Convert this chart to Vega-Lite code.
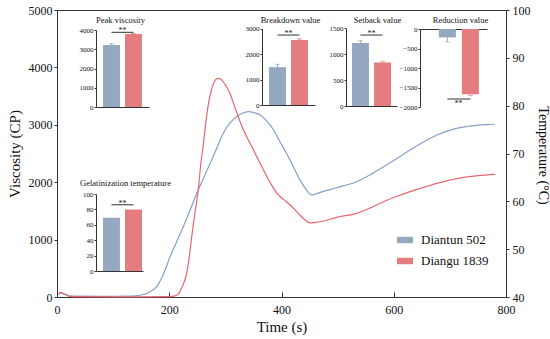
{
  "$schema": "https://vega.github.io/schema/vega-lite/v6.json",
  "width": 449,
  "height": 287,
  "autosize": {"type": "none"},
  "padding": {"left": 57, "top": 10, "right": 44, "bottom": 42},
  "background": "white",
  "config": {
    "font": "Liberation Serif",
    "view": {"stroke": "#333", "strokeWidth": 1},
    "style": {"guide-label": {"font": "Liberation Serif"}, "guide-title": {"font": "Liberation Serif"}},
    "axis": {"grid": false, "domainColor": "#333", "tickColor": "#333", "labelColor": "#111", "titleColor": "#111", "labelFont": "Liberation Serif", "titleFont": "Liberation Serif", "titleFontWeight": "normal"},
    "legend": {"labelFont": "Liberation Serif", "labelColor": "#111"},
    "text": {"font": "Liberation Serif"}
  },
  "datasets": {
    "curves": [
      {"variety": "Diantun 502", "t": 3, "v": 40}, {"variety": "Diantun 502", "t": 7, "v": 70}, {"variety": "Diantun 502", "t": 12, "v": 60}, {"variety": "Diantun 502", "t": 17, "v": 40}, {"variety": "Diantun 502", "t": 22, "v": 22}, {"variety": "Diantun 502", "t": 40, "v": 15}, {"variety": "Diantun 502", "t": 80, "v": 12}, {"variety": "Diantun 502", "t": 120, "v": 14}, {"variety": "Diantun 502", "t": 140, "v": 20}, {"variety": "Diantun 502", "t": 150, "v": 35}, {"variety": "Diantun 502", "t": 160, "v": 60}, {"variety": "Diantun 502", "t": 166, "v": 92}, {"variety": "Diantun 502", "t": 172, "v": 130}, {"variety": "Diantun 502", "t": 178, "v": 185}, {"variety": "Diantun 502", "t": 185, "v": 300}, {"variety": "Diantun 502", "t": 193, "v": 480}, {"variety": "Diantun 502", "t": 201, "v": 690}, {"variety": "Diantun 502", "t": 213, "v": 960}, {"variety": "Diantun 502", "t": 225, "v": 1225}, {"variety": "Diantun 502", "t": 237, "v": 1510}, {"variety": "Diantun 502", "t": 249, "v": 1806}, {"variety": "Diantun 502", "t": 261, "v": 2070}, {"variety": "Diantun 502", "t": 273, "v": 2330}, {"variety": "Diantun 502", "t": 285, "v": 2600}, {"variety": "Diantun 502", "t": 296, "v": 2850}, {"variety": "Diantun 502", "t": 308, "v": 3030}, {"variety": "Diantun 502", "t": 320, "v": 3140}, {"variety": "Diantun 502", "t": 330, "v": 3200}, {"variety": "Diantun 502", "t": 341, "v": 3230}, {"variety": "Diantun 502", "t": 352, "v": 3210}, {"variety": "Diantun 502", "t": 362, "v": 3170}, {"variety": "Diantun 502", "t": 374, "v": 3060}, {"variety": "Diantun 502", "t": 386, "v": 2910}, {"variety": "Diantun 502", "t": 397, "v": 2710}, {"variety": "Diantun 502", "t": 409, "v": 2500}, {"variety": "Diantun 502", "t": 421, "v": 2270}, {"variety": "Diantun 502", "t": 433, "v": 2040}, {"variety": "Diantun 502", "t": 444, "v": 1870}, {"variety": "Diantun 502", "t": 451, "v": 1790}, {"variety": "Diantun 502", "t": 456, "v": 1780}, {"variety": "Diantun 502", "t": 464, "v": 1805}, {"variety": "Diantun 502", "t": 475, "v": 1840}, {"variety": "Diantun 502", "t": 490, "v": 1880}, {"variety": "Diantun 502", "t": 510, "v": 1935}, {"variety": "Diantun 502", "t": 534, "v": 2009}, {"variety": "Diantun 502", "t": 560, "v": 2140}, {"variety": "Diantun 502", "t": 582, "v": 2270}, {"variety": "Diantun 502", "t": 605, "v": 2410}, {"variety": "Diantun 502", "t": 629, "v": 2561}, {"variety": "Diantun 502", "t": 653, "v": 2700}, {"variety": "Diantun 502", "t": 677, "v": 2822}, {"variety": "Diantun 502", "t": 695, "v": 2890}, {"variety": "Diantun 502", "t": 712, "v": 2939}, {"variety": "Diantun 502", "t": 730, "v": 2970}, {"variety": "Diantun 502", "t": 748, "v": 2991}, {"variety": "Diantun 502", "t": 765, "v": 3003}, {"variety": "Diantun 502", "t": 780, "v": 3010},
      {"variety": "Diangu 1839", "t": 3, "v": 60}, {"variety": "Diangu 1839", "t": 7, "v": 80}, {"variety": "Diangu 1839", "t": 12, "v": 55}, {"variety": "Diangu 1839", "t": 17, "v": 30}, {"variety": "Diangu 1839", "t": 22, "v": 10}, {"variety": "Diangu 1839", "t": 40, "v": 5}, {"variety": "Diangu 1839", "t": 100, "v": 3}, {"variety": "Diangu 1839", "t": 200, "v": 5}, {"variety": "Diangu 1839", "t": 210, "v": 20}, {"variety": "Diangu 1839", "t": 216, "v": 50}, {"variety": "Diangu 1839", "t": 219, "v": 92}, {"variety": "Diangu 1839", "t": 223, "v": 180}, {"variety": "Diangu 1839", "t": 228, "v": 300}, {"variety": "Diangu 1839", "t": 231, "v": 413}, {"variety": "Diangu 1839", "t": 235, "v": 650}, {"variety": "Diangu 1839", "t": 240, "v": 1050}, {"variety": "Diangu 1839", "t": 246, "v": 1480}, {"variety": "Diangu 1839", "t": 252, "v": 1893}, {"variety": "Diangu 1839", "t": 256, "v": 2300}, {"variety": "Diangu 1839", "t": 261, "v": 2677}, {"variety": "Diangu 1839", "t": 265, "v": 3030}, {"variety": "Diangu 1839", "t": 270, "v": 3374}, {"variety": "Diangu 1839", "t": 275, "v": 3600}, {"variety": "Diangu 1839", "t": 279, "v": 3722}, {"variety": "Diangu 1839", "t": 283, "v": 3790}, {"variety": "Diangu 1839", "t": 287, "v": 3810}, {"variety": "Diangu 1839", "t": 291, "v": 3800}, {"variety": "Diangu 1839", "t": 296, "v": 3750}, {"variety": "Diangu 1839", "t": 302, "v": 3660}, {"variety": "Diangu 1839", "t": 308, "v": 3548}, {"variety": "Diangu 1839", "t": 315, "v": 3360}, {"variety": "Diangu 1839", "t": 323, "v": 3141}, {"variety": "Diangu 1839", "t": 330, "v": 2960}, {"variety": "Diangu 1839", "t": 338, "v": 2793}, {"variety": "Diangu 1839", "t": 347, "v": 2620}, {"variety": "Diangu 1839", "t": 356, "v": 2444}, {"variety": "Diangu 1839", "t": 365, "v": 2270}, {"variety": "Diangu 1839", "t": 374, "v": 2096}, {"variety": "Diangu 1839", "t": 383, "v": 1940}, {"variety": "Diangu 1839", "t": 392, "v": 1806}, {"variety": "Diangu 1839", "t": 400, "v": 1730}, {"variety": "Diangu 1839", "t": 409, "v": 1660}, {"variety": "Diangu 1839", "t": 420, "v": 1560}, {"variety": "Diangu 1839", "t": 430, "v": 1458}, {"variety": "Diangu 1839", "t": 440, "v": 1360}, {"variety": "Diangu 1839", "t": 451, "v": 1290}, {"variety": "Diangu 1839", "t": 460, "v": 1300}, {"variety": "Diangu 1839", "t": 475, "v": 1324}, {"variety": "Diangu 1839", "t": 498, "v": 1388}, {"variety": "Diangu 1839", "t": 534, "v": 1458}, {"variety": "Diangu 1839", "t": 558, "v": 1550}, {"variety": "Diangu 1839", "t": 582, "v": 1660}, {"variety": "Diangu 1839", "t": 605, "v": 1750}, {"variety": "Diangu 1839", "t": 629, "v": 1835}, {"variety": "Diangu 1839", "t": 653, "v": 1910}, {"variety": "Diangu 1839", "t": 677, "v": 1980}, {"variety": "Diangu 1839", "t": 700, "v": 2035}, {"variety": "Diangu 1839", "t": 724, "v": 2085}, {"variety": "Diangu 1839", "t": 750, "v": 2115}, {"variety": "Diangu 1839", "t": 780, "v": 2138}
    ],
    "bars": [
      {"panel": "Peak viscosity", "variety": "Diantun 502", "value": 3224, "err_end": 3290},
      {"panel": "Peak viscosity", "variety": "Diangu 1839", "value": 3790, "err_end": 3820},
      {"panel": "Breakdown value", "variety": "Diantun 502", "value": 1488, "err_end": 1600},
      {"panel": "Breakdown value", "variety": "Diangu 1839", "value": 2555, "err_end": 2600},
      {"panel": "Setback value", "variety": "Diantun 502", "value": 1217, "err_end": 1260},
      {"panel": "Setback value", "variety": "Diangu 1839", "value": 840, "err_end": 855},
      {"panel": "Reduction value", "variety": "Diantun 502", "value": -215, "err_end": -330},
      {"panel": "Reduction value", "variety": "Diangu 1839", "value": -1675, "err_end": -1710},
      {"panel": "Gelatinization temperature", "variety": "Diantun 502", "value": 69.1, "err_end": 69.6},
      {"panel": "Gelatinization temperature", "variety": "Diangu 1839", "value": 80, "err_end": 80.4}
    ],
    "sig": [
      {"panel": "Peak viscosity", "from": "Diantun 502", "to": "Diangu 1839", "level": 3880},
      {"panel": "Breakdown value", "from": "Diantun 502", "to": "Diangu 1839", "level": 2750},
      {"panel": "Setback value", "from": "Diantun 502", "to": "Diangu 1839", "level": 1370},
      {"panel": "Reduction value", "from": "Diantun 502", "to": "Diangu 1839", "level": -1795},
      {"panel": "Gelatinization temperature", "from": "Diantun 502", "to": "Diangu 1839", "level": 86}
    ]
  },
  "resolve": {"scale": {"x": "independent", "y": "independent", "color": "independent"}, "axis": {"x": "independent", "y": "independent"}},
  "layer": [
    {
      "data": {"name": "curves"},
      "mark": {"type": "line", "strokeWidth": 1.2, "interpolate": "monotone"},
      "encoding": {
        "x": {"field": "t", "type": "quantitative", "scale": {"domain": [0, 800], "nice": false}, "axis": {"orient": "bottom", "values": [0, 200, 400, 600, 800], "format": "d", "title": "Time (s)", "tickSize": -5, "labelPadding": 12, "labelFont": "Liberation Serif", "titleFont": "Liberation Serif", "labelFontSize": 12, "titleFontSize": 15, "titlePadding": 4, "labelFlush": false}},
        "y": {"field": "v", "type": "quantitative", "scale": {"domain": [0, 5000], "nice": false}, "axis": {"orient": "left", "values": [0, 1000, 2000, 3000, 4000, 5000], "format": "d", "title": "Viscosity (CP)", "tickSize": 3, "labelPadding": 2, "labelFont": "Liberation Serif", "titleFont": "Liberation Serif", "labelFontSize": 12, "titleFontSize": 15, "titlePadding": 6, "labelFlush": false}},
        "color": {"field": "variety", "type": "nominal", "scale": {"domain": ["Diantun 502", "Diangu 1839"], "range": ["#859fcb", "#e8666d"]}, "legend": null}
      }
    },
    {
      "data": {"values": [{}]},
      "mark": {"type": "point", "opacity": 0},
      "encoding": {
        "y": {"datum": 40, "type": "quantitative", "scale": {"domain": [40, 100], "nice": false}, "axis": {"orient": "right", "values": [40, 50, 60, 70, 80, 90, 100], "format": "d", "title": "Temperature (°C)", "tickSize": 3, "labelPadding": 3, "labelFont": "Liberation Serif", "titleFont": "Liberation Serif", "labelFontSize": 12, "titleFontSize": 14, "titlePadding": 5, "titleY": 145, "labelFlush": false}}
      }
    },
    {
      "resolve": {"axis": {"x": "independent", "y": "independent"}},
      "layer": [
        {
          "data": {"name": "bars"}, "transform": [{"filter": "datum.panel == 'Peak viscosity'"}],
          "mark": {"type": "bar"},
          "encoding": {
            "x": {"field": "variety", "type": "nominal", "scale": {"domain": ["Diantun 502", "Diangu 1839"], "range": [39, 92], "paddingInner": 0.23, "paddingOuter": 0.32}, "axis": {"orient": "bottom", "offset": -190, "title": "Peak viscosity", "titleX": 63, "titleY": -88, "titleBaseline": "middle", "titleFont": "Liberation Serif", "titleFontSize": 8.5, "labels": false, "ticks": false}},
            "y": {"field": "value", "type": "quantitative", "scale": {"domain": [0, 4000], "range": [97, 20], "nice": false}, "axis": {"orient": "left", "offset": -39, "values": [0, 1000, 2000, 3000, 4000], "format": "d", "title": null, "labelFont": "Liberation Serif", "labelFontSize": 7, "tickSize": 2, "labelPadding": 1}},
            "color": {"field": "variety", "type": "nominal", "scale": {"domain": ["Diantun 502", "Diangu 1839"], "range": ["#94a8c2", "#e57c80"]}, "legend": {"orient": "none", "legendX": 340, "legendY": 222, "title": null, "symbolType": "M-1,-0.4H1V0.4H-1Z", "symbolSize": 256, "symbolStrokeWidth": 0, "labelFont": "Liberation Serif", "labelFontSize": 13, "labelOffset": 8, "rowPadding": 6}}
          }
        },
        {
          "data": {"name": "bars"}, "transform": [{"filter": "datum.panel == 'Peak viscosity'"}],
          "mark": {"type": "rule", "strokeWidth": 1},
          "encoding": {"x": {"field": "variety", "type": "nominal", "axis": null}, "y": {"field": "value", "type": "quantitative", "axis": null}, "y2": {"field": "err_end"}, "color": {"field": "variety", "type": "nominal", "legend": null}}
        },
        {
          "data": {"name": "bars"}, "transform": [{"filter": "datum.panel == 'Peak viscosity'"}],
          "mark": {"type": "tick", "thickness": 1, "size": 5, "orient": "horizontal"},
          "encoding": {"x": {"field": "variety", "type": "nominal", "axis": null}, "y": {"field": "err_end", "type": "quantitative", "axis": null}, "color": {"field": "variety", "type": "nominal", "legend": null}}
        },
        {
          "data": {"name": "sig"}, "transform": [{"filter": "datum.panel == 'Peak viscosity'"}],
          "mark": {"type": "rule", "color": "#333", "strokeWidth": 1},
          "encoding": {"x": {"field": "from", "type": "nominal", "axis": null}, "x2": {"field": "to"}, "y": {"field": "level", "type": "quantitative", "axis": null}}
        },
        {
          "data": {"name": "sig"}, "transform": [{"filter": "datum.panel == 'Peak viscosity'"}],
          "mark": {"type": "text", "text": "**", "dx": 11, "dy": -1, "baseline": "middle", "fontSize": 8, "color": "#222"},
          "encoding": {"x": {"field": "from", "type": "nominal", "axis": null}, "y": {"field": "level", "type": "quantitative", "axis": null}}
        }
      ]
    },
    {
      "resolve": {"axis": {"x": "independent", "y": "independent"}},
      "layer": [
        {
          "data": {"name": "bars"}, "transform": [{"filter": "datum.panel == 'Breakdown value'"}],
          "mark": {"type": "bar"},
          "encoding": {
            "x": {"field": "variety", "type": "nominal", "scale": {"domain": ["Diantun 502", "Diangu 1839"], "range": [205, 258], "paddingInner": 0.23, "paddingOuter": 0.32}, "axis": {"orient": "bottom", "offset": -192, "title": "Breakdown value", "titleX": 233, "titleY": -86, "titleBaseline": "middle", "titleFont": "Liberation Serif", "titleFontSize": 8.5, "labels": false, "ticks": false}},
            "y": {"field": "value", "type": "quantitative", "scale": {"domain": [0, 3000], "range": [95, 18.7], "nice": false}, "axis": {"orient": "left", "offset": -205, "values": [0, 1000, 2000, 3000], "format": "d", "title": null, "labelFont": "Liberation Serif", "labelFontSize": 7, "tickSize": 2, "labelPadding": 1}},
            "color": {"field": "variety", "type": "nominal", "scale": {"domain": ["Diantun 502", "Diangu 1839"], "range": ["#94a8c2", "#e57c80"]}, "legend": null}
          }
        },
        {
          "data": {"name": "bars"}, "transform": [{"filter": "datum.panel == 'Breakdown value'"}],
          "mark": {"type": "rule", "strokeWidth": 1},
          "encoding": {"x": {"field": "variety", "type": "nominal", "axis": null}, "y": {"field": "value", "type": "quantitative", "axis": null}, "y2": {"field": "err_end"}, "color": {"field": "variety", "type": "nominal", "legend": null}}
        },
        {
          "data": {"name": "bars"}, "transform": [{"filter": "datum.panel == 'Breakdown value'"}],
          "mark": {"type": "tick", "thickness": 1, "size": 5, "orient": "horizontal"},
          "encoding": {"x": {"field": "variety", "type": "nominal", "axis": null}, "y": {"field": "err_end", "type": "quantitative", "axis": null}, "color": {"field": "variety", "type": "nominal", "legend": null}}
        },
        {
          "data": {"name": "sig"}, "transform": [{"filter": "datum.panel == 'Breakdown value'"}],
          "mark": {"type": "rule", "color": "#333", "strokeWidth": 1},
          "encoding": {"x": {"field": "from", "type": "nominal", "axis": null}, "x2": {"field": "to"}, "y": {"field": "level", "type": "quantitative", "axis": null}}
        },
        {
          "data": {"name": "sig"}, "transform": [{"filter": "datum.panel == 'Breakdown value'"}],
          "mark": {"type": "text", "text": "**", "dx": 11, "dy": -1, "baseline": "middle", "fontSize": 8, "color": "#222"},
          "encoding": {"x": {"field": "from", "type": "nominal", "axis": null}, "y": {"field": "level", "type": "quantitative", "axis": null}}
        }
      ]
    },
    {
      "resolve": {"axis": {"x": "independent", "y": "independent"}},
      "layer": [
        {
          "data": {"name": "bars"}, "transform": [{"filter": "datum.panel == 'Setback value'"}],
          "mark": {"type": "bar"},
          "encoding": {
            "x": {"field": "variety", "type": "nominal", "scale": {"domain": ["Diantun 502", "Diangu 1839"], "range": [289, 340], "paddingInner": 0.23, "paddingOuter": 0.27}, "axis": {"orient": "bottom", "offset": -191, "title": "Setback value", "titleX": 320, "titleY": -87, "titleBaseline": "middle", "titleFont": "Liberation Serif", "titleFontSize": 8.5, "labels": false, "ticks": false}},
            "y": {"field": "value", "type": "quantitative", "scale": {"domain": [0, 1500], "range": [96, 18.3], "nice": false}, "axis": {"orient": "left", "offset": -289, "values": [0, 500, 1000, 1500], "format": "d", "title": null, "labelFont": "Liberation Serif", "labelFontSize": 7, "tickSize": 2, "labelPadding": 1}},
            "color": {"field": "variety", "type": "nominal", "scale": {"domain": ["Diantun 502", "Diangu 1839"], "range": ["#94a8c2", "#e57c80"]}, "legend": null}
          }
        },
        {
          "data": {"name": "bars"}, "transform": [{"filter": "datum.panel == 'Setback value'"}],
          "mark": {"type": "rule", "strokeWidth": 1},
          "encoding": {"x": {"field": "variety", "type": "nominal", "axis": null}, "y": {"field": "value", "type": "quantitative", "axis": null}, "y2": {"field": "err_end"}, "color": {"field": "variety", "type": "nominal", "legend": null}}
        },
        {
          "data": {"name": "bars"}, "transform": [{"filter": "datum.panel == 'Setback value'"}],
          "mark": {"type": "tick", "thickness": 1, "size": 5, "orient": "horizontal"},
          "encoding": {"x": {"field": "variety", "type": "nominal", "axis": null}, "y": {"field": "err_end", "type": "quantitative", "axis": null}, "color": {"field": "variety", "type": "nominal", "legend": null}}
        },
        {
          "data": {"name": "sig"}, "transform": [{"filter": "datum.panel == 'Setback value'"}],
          "mark": {"type": "rule", "color": "#333", "strokeWidth": 1},
          "encoding": {"x": {"field": "from", "type": "nominal", "axis": null}, "x2": {"field": "to"}, "y": {"field": "level", "type": "quantitative", "axis": null}}
        },
        {
          "data": {"name": "sig"}, "transform": [{"filter": "datum.panel == 'Setback value'"}],
          "mark": {"type": "text", "text": "**", "dx": 11, "dy": -1, "baseline": "middle", "fontSize": 8, "color": "#222"},
          "encoding": {"x": {"field": "from", "type": "nominal", "axis": null}, "y": {"field": "level", "type": "quantitative", "axis": null}}
        }
      ]
    },
    {
      "resolve": {"axis": {"x": "independent", "y": "independent"}},
      "layer": [
        {
          "data": {"name": "bars"}, "transform": [{"filter": "datum.panel == 'Reduction value'"}],
          "mark": {"type": "bar"},
          "encoding": {
            "x": {"field": "variety", "type": "nominal", "scale": {"domain": ["Diantun 502", "Diangu 1839"], "range": [363, 430], "paddingInner": 0.26, "paddingOuter": 0.587, "align": 0.7}, "axis": {"orient": "top", "offset": -19, "title": "Reduction value", "titleX": 403, "titleY": -10, "titleBaseline": "middle", "titleFont": "Liberation Serif", "titleFontSize": 8.5, "labels": false, "ticks": false}},
            "y": {"field": "value", "type": "quantitative", "scale": {"domain": [-2000, 0], "range": [97, 19], "nice": false}, "axis": {"orient": "left", "offset": -363, "values": [-2000, -1500, -1000, -500, 0], "format": "d", "title": null, "labelFont": "Liberation Serif", "labelFontSize": 7, "tickSize": 2, "labelPadding": 1}},
            "color": {"field": "variety", "type": "nominal", "scale": {"domain": ["Diantun 502", "Diangu 1839"], "range": ["#94a8c2", "#e57c80"]}, "legend": null}
          }
        },
        {
          "data": {"name": "bars"}, "transform": [{"filter": "datum.panel == 'Reduction value'"}],
          "mark": {"type": "rule", "strokeWidth": 1},
          "encoding": {"x": {"field": "variety", "type": "nominal", "axis": null}, "y": {"field": "value", "type": "quantitative", "axis": null}, "y2": {"field": "err_end"}, "color": {"field": "variety", "type": "nominal", "legend": null}}
        },
        {
          "data": {"name": "bars"}, "transform": [{"filter": "datum.panel == 'Reduction value'"}],
          "mark": {"type": "tick", "thickness": 1, "size": 5, "orient": "horizontal"},
          "encoding": {"x": {"field": "variety", "type": "nominal", "axis": null}, "y": {"field": "err_end", "type": "quantitative", "axis": null}, "color": {"field": "variety", "type": "nominal", "legend": null}}
        },
        {
          "data": {"name": "sig"}, "transform": [{"filter": "datum.panel == 'Reduction value'"}],
          "mark": {"type": "rule", "color": "#333", "strokeWidth": 1},
          "encoding": {"x": {"field": "from", "type": "nominal", "axis": null}, "x2": {"field": "to"}, "y": {"field": "level", "type": "quantitative", "axis": null}}
        },
        {
          "data": {"name": "sig"}, "transform": [{"filter": "datum.panel == 'Reduction value'"}],
          "mark": {"type": "text", "text": "**", "dx": 11, "dy": 5, "baseline": "middle", "fontSize": 8, "color": "#222"},
          "encoding": {"x": {"field": "from", "type": "nominal", "axis": null}, "y": {"field": "level", "type": "quantitative", "axis": null}}
        }
      ]
    },
    {
      "resolve": {"axis": {"x": "independent", "y": "independent"}},
      "layer": [
        {
          "data": {"name": "bars"}, "transform": [{"filter": "datum.panel == 'Gelatinization temperature'"}],
          "mark": {"type": "bar"},
          "encoding": {
            "x": {"field": "variety", "type": "nominal", "scale": {"domain": ["Diantun 502", "Diangu 1839"], "range": [39, 86], "paddingInner": 0.23, "paddingOuter": 0.18, "align": 0.875}, "axis": {"orient": "bottom", "offset": -26, "title": "Gelatinization temperature", "titleX": 68, "titleY": -89, "titleBaseline": "middle", "titleFont": "Liberation Serif", "titleFontSize": 8.5, "labels": false, "ticks": false}},
            "y": {"field": "value", "type": "quantitative", "scale": {"domain": [0, 100], "range": [261, 184], "nice": false}, "axis": {"orient": "left", "offset": -39, "values": [0, 20, 40, 60, 80, 100], "format": "d", "title": null, "labelFont": "Liberation Serif", "labelFontSize": 7, "tickSize": 2, "labelPadding": 1}},
            "color": {"field": "variety", "type": "nominal", "scale": {"domain": ["Diantun 502", "Diangu 1839"], "range": ["#94a8c2", "#e57c80"]}, "legend": null}
          }
        },
        {
          "data": {"name": "bars"}, "transform": [{"filter": "datum.panel == 'Gelatinization temperature'"}],
          "mark": {"type": "rule", "strokeWidth": 1},
          "encoding": {"x": {"field": "variety", "type": "nominal", "axis": null}, "y": {"field": "value", "type": "quantitative", "axis": null}, "y2": {"field": "err_end"}, "color": {"field": "variety", "type": "nominal", "legend": null}}
        },
        {
          "data": {"name": "sig"}, "transform": [{"filter": "datum.panel == 'Gelatinization temperature'"}],
          "mark": {"type": "rule", "color": "#333", "strokeWidth": 1},
          "encoding": {"x": {"field": "from", "type": "nominal", "axis": null}, "x2": {"field": "to"}, "y": {"field": "level", "type": "quantitative", "axis": null}}
        },
        {
          "data": {"name": "sig"}, "transform": [{"filter": "datum.panel == 'Gelatinization temperature'"}],
          "mark": {"type": "text", "text": "**", "dx": 11, "dy": -1, "baseline": "middle", "fontSize": 8, "color": "#222"},
          "encoding": {"x": {"field": "from", "type": "nominal", "axis": null}, "y": {"field": "level", "type": "quantitative", "axis": null}}
        }
      ]
    }
  ]
}
